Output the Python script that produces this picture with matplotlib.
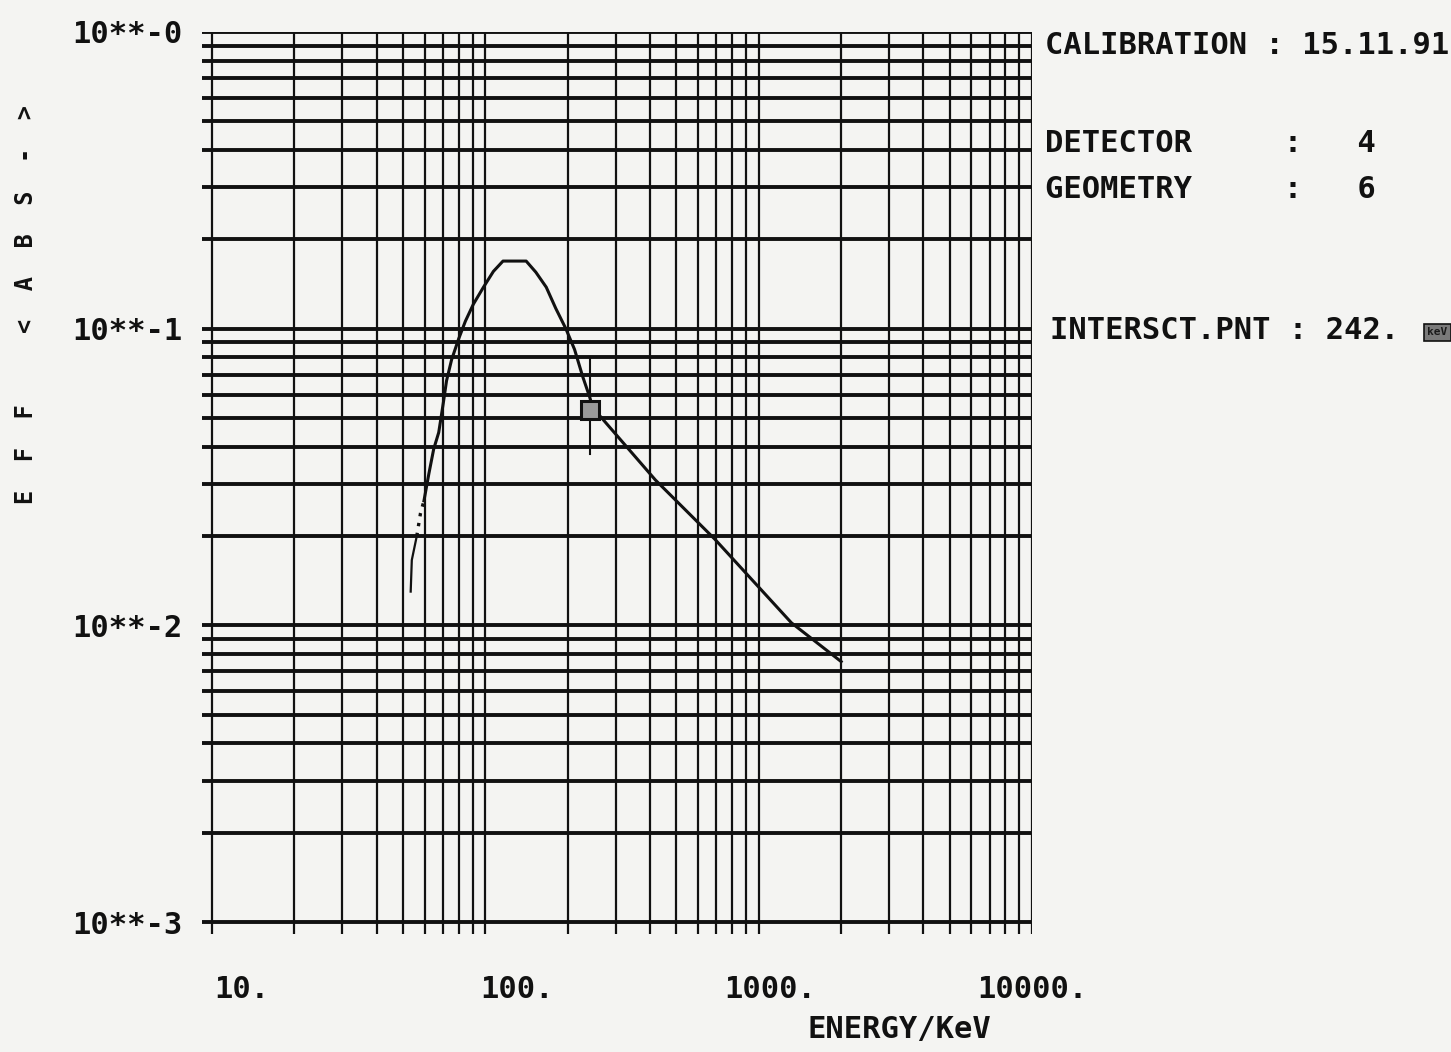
import numpy as np
import matplotlib
matplotlib.use("Agg")
import matplotlib.pyplot as plt
from matplotlib.ticker import LogLocator, NullFormatter


# Efficiency curve (energy in keV, absolute efficiency).
energy_kev = [53.3, 53.8, 56.1, 57.9, 59.6, 62.1, 64.7, 67.5, 70.3, 72.1,
              75.2, 79.8, 84.5, 90.4, 98.4, 107, 116, 141, 153, 167,
              181, 197, 212, 227, 241, 247, 419, 692, 1318, 2004]
efficiency = [0.0130, 0.0166, 0.0200, 0.0239, 0.0263, 0.0324, 0.0393, 0.0447,
              0.0569, 0.0668, 0.0785, 0.0923, 0.106, 0.121, 0.138, 0.156,
              0.169, 0.169, 0.155, 0.138, 0.117, 0.100, 0.0851, 0.0690,
              0.0587, 0.0542, 0.0309, 0.0195, 0.0102, 0.00755]

# Intersection point marker.
isect_energy = 242
isect_eff = 0.053
isect_bar = [0.0378, 0.080]

x_ticks = [10, 100, 1000, 10000]
x_labels = ["10.", "100.", "1000.", "10000."]
y_ticks = [1e-3, 1e-2, 1e-1, 1]
y_labels = ["10**-3", "10**-2", "10**-1", "10**-0"]

info_lines = ["CALIBRATION : 15.11.91",
              "DETECTOR     :   4",
              "GEOMETRY     :   6",
              "INTERSCT.PNT : 242."]

paper = "#f4f4f2"
ink = "#111111"
plt.rcParams["font.family"] = "DejaVu Sans Mono"
plt.rcParams["font.weight"] = "bold"

fig = plt.figure(figsize=(14.51, 10.52), dpi=100, facecolor=paper)
ax = fig.add_axes([0.1392, 0.1122, 0.5720, 0.8574])
ax.set_facecolor(paper)

ax.set_xscale("log")
ax.set_yscale("log")
ax.set_xlim(10 ** 0.963, 1e4)
ax.set_ylim(10 ** -3.04, 1)

# Printer-style grid: thick horizontals, thin verticals.
for axis in (ax.xaxis, ax.yaxis):
    axis.set_major_locator(LogLocator(base=10, numticks=20))
    axis.set_minor_locator(LogLocator(base=10, subs=np.arange(2, 10), numticks=20))
    axis.set_minor_formatter(NullFormatter())
ax.xaxis.grid(True, which="both", color=ink, lw=1.6)
ax.yaxis.grid(True, which="both", color=ink, lw=2.8)
ax.set_axisbelow(True)
for s in ax.spines.values():
    s.set_visible(False)

ax.set_xticks(x_ticks)
ax.set_xticklabels([])
ax.set_yticks(y_ticks)
ax.set_yticklabels(y_labels)
ax.tick_params(which="both", length=0)
ax.tick_params(axis="y", pad=14, labelsize=22, labelcolor=ink)

# x labels sit on the printer's character grid, a little off the lines
label_shift = [30, 32, 12, 0]
for xt, lab, dx in zip(x_ticks, x_labels, label_shift):
    ax.annotate(lab, xy=(xt, 0), xycoords=("data", "axes fraction"),
                xytext=(dx, -56), textcoords="offset pixels",
                ha="center", va="center", fontsize=22, color=ink)

# Curve: solid, with a dotted stretch on the low-energy flank.
e = np.array(energy_kev)
f = np.array(efficiency)
ax.plot(e[:3], f[:3], color=ink, lw=1.6)
ax.plot(e[2:5], f[2:5], color=ink, lw=2.4, ls=(0, (1, 2)))
ax.plot(e[4:], f[4:], color=ink, lw=2.2)

ax.plot([isect_energy, isect_energy], isect_bar, color=ink, lw=1.5)
ax.plot(isect_energy, isect_eff, marker="s", ms=13, mfc="#9a9a9a",
        mec=ink, mew=2.2)

# Side annotations.
fig.text(0.7202, 0.9572, info_lines[0], fontsize=22, color=ink, va="center")
fig.text(0.7202, 0.8640, info_lines[1], fontsize=22, color=ink, va="center")
fig.text(0.7202, 0.8194, info_lines[2], fontsize=22, color=ink, va="center")
fig.text(0.7237, 0.6863, info_lines[3], fontsize=22, color=ink, va="center")
fig.text(0.9905, 0.6840, "keV", fontsize=8, weight="bold", color="#1a1a1a",
         ha="center", va="center",
         bbox=dict(boxstyle="square,pad=0.3", fc="#7a7a7a", ec=ink, lw=1.2))

fig.text(0.620, 0.021, "ENERGY/KeV", fontsize=22, color=ink,
         ha="center", va="center")
fig.text(0.018, 0.711, "  ".join("EFF <ABS->"), fontsize=17, color=ink,
         rotation=90, ha="center", va="center")

fig.savefig("out.png", dpi=100, facecolor=paper)
